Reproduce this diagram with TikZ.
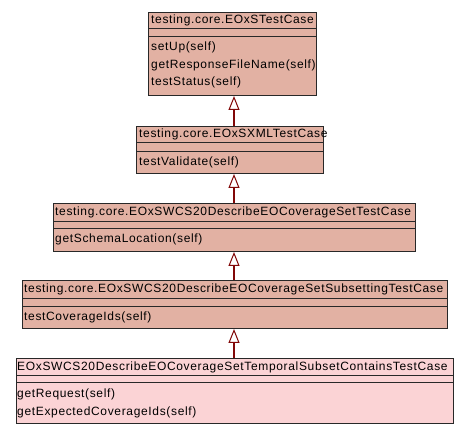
\documentclass[tikz,border=0pt]{standalone}
\usepackage{fontspec}
\setmainfont{Liberation Sans}[LetterSpace=5.5]
\usetikzlibrary{arrows.meta}
\definecolor{boxfill}{RGB}{226,177,163}
\definecolor{leaffill}{RGB}{251,211,213}
\definecolor{edgecol}{RGB}{130,8,8}
\definecolor{bordercol}{RGB}{40,40,40}
\tikzset{
  umlbox/.style={draw=bordercol, line width=1pt, fill=boxfill, inner sep=0pt},
  leafbox/.style={umlbox, fill=leaffill},
  sep/.style={draw=bordercol, line width=1pt},
  txt/.style={anchor=west, inner sep=0pt, font=\fontsize{12}{14}\selectfont, text=black},
  gen/.style={draw=edgecol, line width=2pt, -{Triangle[length=14pt, width=11pt, line width=1pt, fill=white]}},
}
\begin{document}
\begin{tikzpicture}[x=1pt,y=-1pt]
\useasboundingbox[fill=white] (0,0) rectangle (469,435);
\coordinate (ax) at (234,0);
% box 1
\node[umlbox, anchor=north west, minimum width=168pt, minimum height=83pt] (b1) at (148,12) {};
\draw[sep] (148,29) -- (316,29) (148,37) -- (316,37);
\node[txt] (b1t) at (151,20) {testing.core.EOxSTestCase};
\node[txt] (b1m1) at (151,47) {setUp(self)};
\node[txt] (b1m2) at (151,65) {getResponseFileName(self)};
\node[txt] (b1m3) at (151,82) {testStatus(self)};
% box 2
\node[umlbox, anchor=north west, minimum width=187pt, minimum height=47pt] (b2) at (136,126) {};
\draw[sep] (136,143) -- (323,143) (136,152) -- (323,152);
\node[txt] (b2t) at (139,134) {testing.core.EOxSXMLTestCase};
\node[txt] (b2m1) at (139,162) {testValidate(self)};
% box 3
\node[umlbox, anchor=north west, minimum width=362pt, minimum height=48pt] (b3) at (53,203) {};
\draw[sep] (53,222) -- (415,222) (53,229) -- (415,229);
\node[txt] (b3t) at (55,212) {testing.core.EOxSWCS20DescribeEOCoverageSetTestCase};
\node[txt] (b3m1) at (55,239) {getSchemaLocation(self)};
% box 4
\node[umlbox, anchor=north west, minimum width=425pt, minimum height=48pt] (b4) at (22,280) {};
\draw[sep] (22,299) -- (447,299) (22,307) -- (447,307);
\node[txt] (b4t) at (24,289) {testing.core.EOxSWCS20DescribeEOCoverageSetSubsettingTestCase};
\node[txt] (b4m1) at (24,317) {testCoverageIds(self)};
% box 5
\node[leafbox, anchor=north west, minimum width=437pt, minimum height=65pt] (b5) at (16,358) {};
\draw[sep] (16,376) -- (453,376) (16,383) -- (453,383);
\node[txt] (b5t) at (17,367) {EOxSWCS20DescribeEOCoverageSetTemporalSubsetContainsTestCase};
\node[txt] (b5m1) at (17,394) {getRequest(self)};
\node[txt] (b5m2) at (17,412) {getExpectedCoverageIds(self)};
% generalisations
\draw[gen] (b2.north -| ax) -- (b1.south -| ax);
\draw[gen] (b3.north -| ax) -- (b2.south -| ax);
\draw[gen] (b4.north -| ax) -- (b3.south -| ax);
\draw[gen] (b5.north -| ax) -- (b4.south -| ax);
\end{tikzpicture}
\end{document}
